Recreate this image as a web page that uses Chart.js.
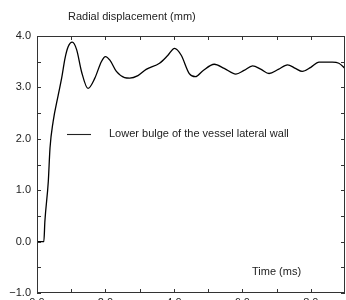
<!DOCTYPE html>
<html>
<head>
<meta charset="utf-8">
<script src="https://cdn.jsdelivr.net/npm/chart.js@4/dist/chart.umd.min.js"></script>
<style>
  html, body { margin: 0; padding: 0; background: #fff; overflow: hidden; }
  #wrap { width: 346px; height: 300px; overflow: hidden; }
</style>
</head>
<body>
<div id="wrap"><canvas id="grafico" width="346" height="320"></canvas></div>
<script>
// dados
const tempo = [0, 0.2, 0.23, 0.33, 0.38, 0.47, 0.62, 0.72, 0.82, 0.91, 1.03, 1.16, 1.30, 1.49, 1.69, 1.88, 2.0, 2.13, 2.32, 2.56, 2.71, 2.95, 3.19, 3.58, 3.82, 4.02, 4.21, 4.45, 4.63, 4.84, 5.18, 5.47, 5.81, 6.05, 6.3, 6.55, 6.78, 7.05, 7.32, 7.55, 7.75, 8.0, 8.24, 8.63, 8.82, 9.0];
const deslocamento = [0, 0, 0.39, 1.17, 1.82, 2.33, 2.85, 3.18, 3.57, 3.79, 3.88, 3.73, 3.31, 2.98, 3.18, 3.5, 3.6, 3.53, 3.31, 3.19, 3.18, 3.23, 3.35, 3.47, 3.62, 3.76, 3.63, 3.27, 3.21, 3.32, 3.45, 3.37, 3.26, 3.33, 3.42, 3.35, 3.27, 3.35, 3.44, 3.37, 3.31, 3.39, 3.49, 3.49, 3.47, 3.37];
const ticksX = [0, 2, 4, 6, 8];
const ticksXMenor = [1, 3, 5, 7];
const ticksY = [-1, 0, 1, 2, 3, 4];
const ticksYMenor = [-0.5, 0.5, 1.5, 2.5, 3.5];
const nomeSerie = 'Lower bulge of the vessel lateral wall';
const tituloY = 'Radial displacement (mm)';
const tituloX = 'Time (ms)';

const fonte = '11px "Liberation Sans", Arial, sans-serif';
const corTexto = '#222';

// moldura, marcas internas, legenda e títulos
const molduraPlugin = {
    id: 'moldura',
    afterDraw(chart) {
        const ctx = chart.ctx;
        const a = chart.chartArea;
        const sx = chart.scales.x, sy = chart.scales.y;
        ctx.save();
        ctx.strokeStyle = '#333';
        ctx.lineWidth = 1;
        ctx.strokeRect(a.left + 0.5, a.top + 0.5, a.right - a.left - 1, a.bottom - a.top - 1);

        ctx.beginPath();
        ticksX.concat(ticksXMenor).forEach(v => {
            const px = Math.round(sx.getPixelForValue(v)) + 0.5;
            ctx.moveTo(px, a.bottom); ctx.lineTo(px, a.bottom - 4);
            ctx.moveTo(px, a.top); ctx.lineTo(px, a.top + 4);
        });
        ticksY.concat(ticksYMenor).forEach(v => {
            const py = Math.round(sy.getPixelForValue(v)) + 0.5;
            ctx.moveTo(a.left, py); ctx.lineTo(a.left + 4, py);
            ctx.moveTo(a.right, py); ctx.lineTo(a.right - 4, py);
        });
        ctx.stroke();

        // legenda
        ctx.strokeStyle = '#222';
        ctx.lineWidth = 1.1;
        ctx.beginPath();
        ctx.moveTo(67, 134.5); ctx.lineTo(91, 134.5);
        ctx.stroke();

        ctx.fillStyle = corTexto;
        ctx.font = fonte;
        ctx.textBaseline = 'middle';
        ctx.textAlign = 'left';
        ctx.fillText(chart.data.datasets[0].label, 109, 134);
        ctx.fillText(tituloY, 68, 17);
        ctx.fillText(tituloX, 252, 272);
        ctx.restore();
    }
};

new Chart(document.getElementById('grafico'), {
    type: 'scatter',
    data: {
        datasets: [{
            label: nomeSerie,
            data: tempo.map((t, i) => ({ x: t, y: deslocamento[i] })),
            showLine: true,
            borderColor: '#000',
            borderWidth: 1.3,
            pointRadius: 0,
            cubicInterpolationMode: 'monotone',
            fill: false
        }]
    },
    options: {
        responsive: false,
        animation: false,
        layout: { padding: { top: 36, right: 1, left: 0, bottom: 0 } },
        plugins: { legend: { display: false }, tooltip: { enabled: false } },
        scales: {
            x: {
                type: 'linear',
                min: 0,
                max: 9,
                grid: { display: false, drawTicks: false },
                border: { display: false },
                afterFit: s => { s.height = 27; },
                afterBuildTicks: s => { s.ticks = ticksX.map(v => ({ value: v })); },
                ticks: {
                    padding: 3,
                    color: corTexto,
                    font: { family: '"Liberation Sans", Arial, sans-serif', size: 11 },
                    callback: v => v.toFixed(1)
                }
            },
            y: {
                min: -1,
                max: 4,
                grid: { display: false, drawTicks: false },
                border: { display: false },
                afterFit: s => { s.width = 37; },
                afterBuildTicks: s => { s.ticks = ticksY.map(v => ({ value: v })); },
                ticks: {
                    padding: 6,
                    color: corTexto,
                    font: { family: '"Liberation Sans", Arial, sans-serif', size: 11 },
                    callback: v => v.toFixed(1).replace('-', '\u2212')
                }
            }
        }
    },
    plugins: [molduraPlugin]
});
</script>
</body>
</html>
